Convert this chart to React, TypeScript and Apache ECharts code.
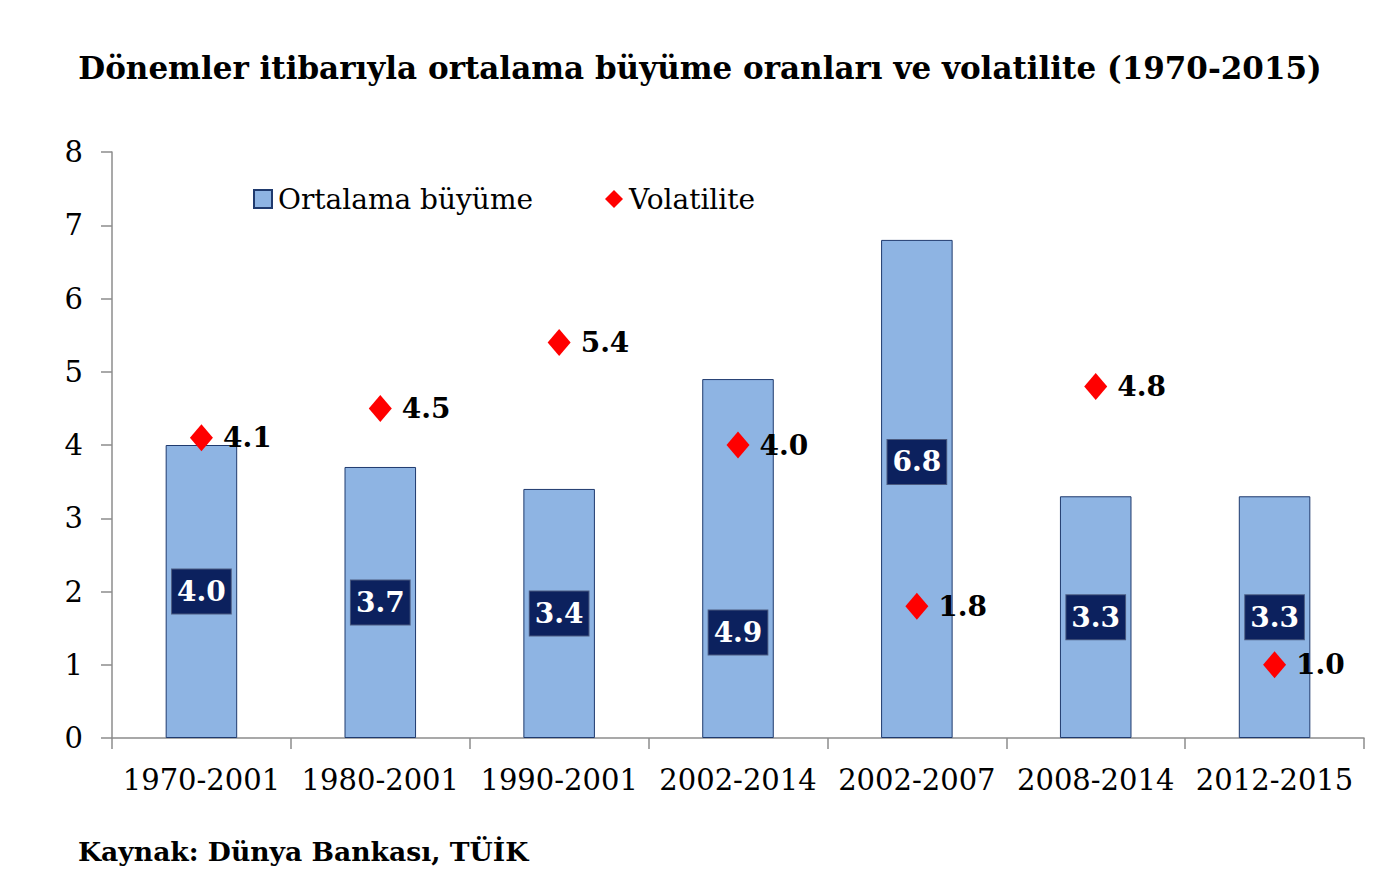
import {useEffect, useRef} from 'react';
import * as echarts from 'echarts';

const periods = ['1970-2001', '1980-2001', '1990-2001', '2002-2014', '2002-2007', '2008-2014', '2012-2015'];
const growth = [4.0, 3.7, 3.4, 4.9, 6.8, 3.3, 3.3];
const volatility = [4.1, 4.5, 5.4, 4.0, 1.8, 4.8, 1.0];
// label nudges (px) for the hand-placed growth labels
const growthLabelShift = [0, 0, 0, 74, -27, 0, 0];

const FONT = '"DejaVu Serif", serif';

const App = () => {
    const chartRef = useRef<HTMLDivElement>(null);

    useEffect(() => {
        document.body.style.margin = '0';
        const chart = echarts.init(chartRef.current!, null, {renderer: 'svg'});

        chart.setOption({
            animation: false,
            backgroundColor: '#fff',
            textStyle: {fontFamily: FONT},
            title: {
                text: 'Dönemler itibarıyla ortalama büyüme oranları ve volatilite (1970-2015)',
                left: 'center',
                top: 47,
                textStyle: {fontFamily: FONT, fontSize: 31, fontWeight: 'bold', color: '#000'},
            },
            legend: {
                left: 248,
                top: 180,
                itemGap: 72,
                itemWidth: 18,
                itemHeight: 18,
                textStyle: {fontFamily: FONT, fontSize: 28, color: '#000', padding: [0, 0, 0, 1]},
                data: [
                    {name: 'Ortalama büyüme', icon: 'rect'},
                    {name: 'Volatilite', icon: 'diamond', itemStyle: {opacity: 1}},
                ],
            },
            grid: {left: 112, right: 36, top: 152, bottom: 152},
            xAxis: {
                type: 'category',
                data: periods,
                axisLine: {lineStyle: {color: '#8c8c8c', width: 1.5}},
                axisTick: {show: true, length: 11, lineStyle: {color: '#8c8c8c', width: 1.5}},
                axisLabel: {fontFamily: FONT, fontSize: 29, color: '#000', margin: 27, interval: 0},
            },
            yAxis: {
                type: 'value',
                min: 0,
                max: 8,
                interval: 1,
                splitLine: {show: false},
                axisLine: {show: true, lineStyle: {color: '#8c8c8c', width: 1.5}},
                axisTick: {show: true, length: 11, lineStyle: {color: '#8c8c8c', width: 1.5}},
                axisLabel: {fontFamily: FONT, fontSize: 29, color: '#000', margin: 29},
            },
            series: [
                {
                    name: 'Ortalama büyüme',
                    type: 'bar',
                    barWidth: '40%',
                    itemStyle: {color: '#8eb4e3', borderColor: '#1f3a6e', borderWidth: 1},
                    data: growth.map((v, i) => ({
                        value: v,
                        label: {offset: [0, growthLabelShift[i]]},
                    })),
                    label: {
                        show: true,
                        position: 'inside',
                        formatter: (p: any) => p.value.toFixed(1),
                        fontFamily: FONT,
                        fontSize: 28,
                        fontWeight: 'bold',
                        color: '#fff',
                        backgroundColor: '#0c215e',
                        borderColor: '#4a5a80',
                        borderWidth: 1,
                        padding: [9, 5, 7, 5],
                    },
                },
                {
                    name: 'Volatilite',
                    type: 'scatter',
                    symbol: 'diamond',
                    symbolSize: [23, 27],
                    itemStyle: {color: '#ff0000', opacity: 1},
                    data: volatility,
                    label: {
                        show: true,
                        position: 'right',
                        distance: 10,
                        formatter: (p: any) => p.value.toFixed(1),
                        fontFamily: FONT,
                        fontSize: 28,
                        fontWeight: 'bold',
                        color: '#000',
                    },
                },
            ],
            graphic: [
                {
                    type: 'text',
                    left: 78,
                    top: 838,
                    style: {
                        text: 'Kaynak: Dünya Bankası, TÜİK',
                        font: `bold 26.6px ${FONT}`,
                        fill: '#000',
                    },
                },
            ],
        });

        return () => {
            chart.dispose();
        };
    }, []);

    return <div ref={chartRef} style={{width: '1400px', height: '890px'}} />;
};

export default App;
